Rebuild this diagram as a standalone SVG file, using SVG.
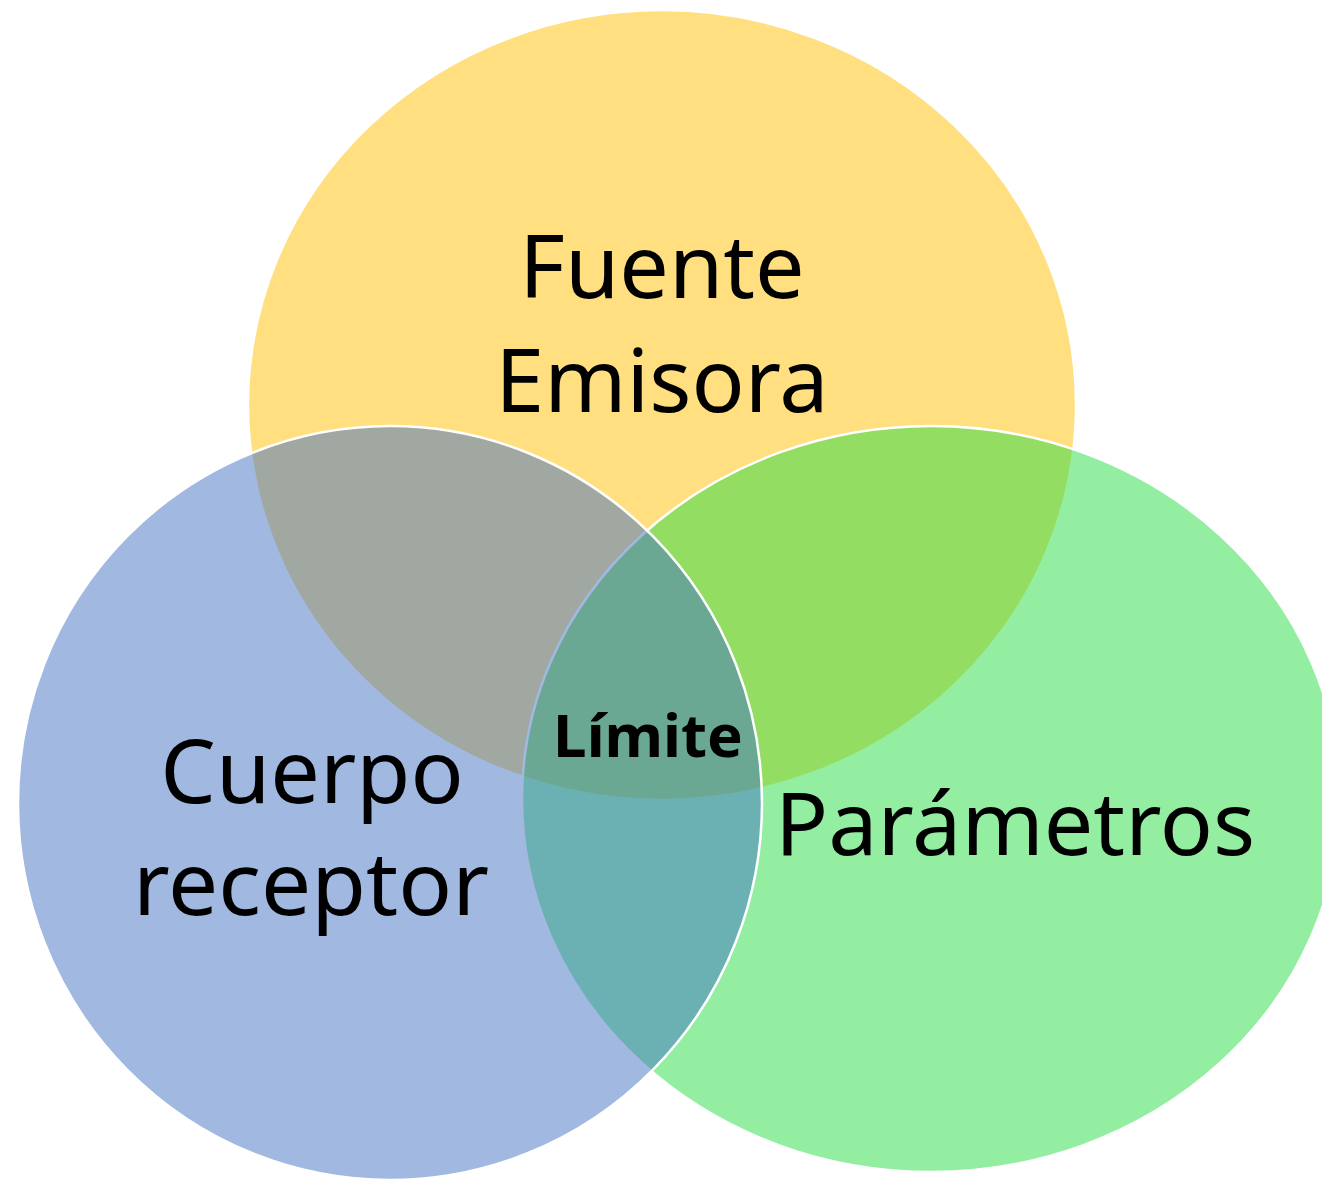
<svg xmlns="http://www.w3.org/2000/svg" width="1322" height="1179" viewBox="0 0 1322 1179">
<style>
.c{stroke:#ffffff;stroke-width:2.5}
.t{font-family:"Noto Sans","Open Sans",sans-serif;font-size:88px;fill:#000000;text-anchor:middle}
.b{font-family:"Noto Sans","Open Sans",sans-serif;font-size:60px;font-weight:bold;fill:#000000;text-anchor:middle}
</style>
<rect width="1322" height="1179" fill="#ffffff"/>
<g id="fuente">
<ellipse class="c" cx="662" cy="405" rx="414" ry="395" fill="rgb(255,192,0)" fill-opacity="0.5"/>
</g>
<g id="parametros">
<ellipse class="c" cx="931" cy="799" rx="409" ry="373" fill="rgb(39,221,69)" fill-opacity="0.5"/>
</g>
<g id="cuerpo">
<ellipse class="c" cx="390" cy="803" rx="372" ry="377" fill="rgb(68,114,196)" fill-opacity="0.5"/>
</g>
<g id="labels">
<text class="t" x="662" y="298">Fuente</text>
<text class="t" x="662" y="412">Emisora</text>
<text class="t" x="312" y="803">Cuerpo</text>
<text class="t" x="311" y="915" textLength="356" lengthAdjust="spacingAndGlyphs">receptor</text>
<text class="t" x="1015" y="855">Parámetros</text>
<text class="b" x="648" y="757">Límite</text>
</g>
<g id="connectors"/>
</svg>
